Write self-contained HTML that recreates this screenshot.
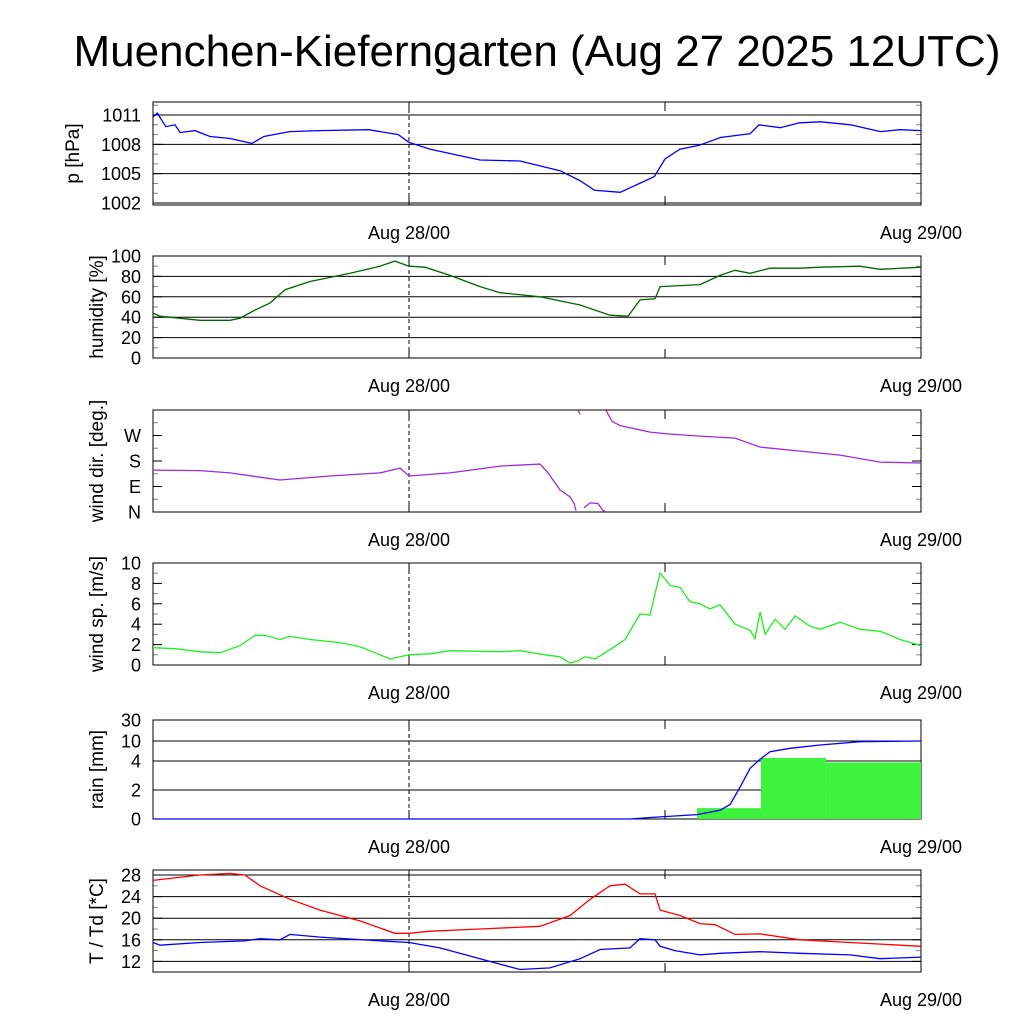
<!DOCTYPE html>
<html><head><meta charset="utf-8"><style>
body{margin:0;background:#fff;}
svg text{font-family:"Liberation Sans",sans-serif;fill:#000;}
</style></head><body>
<svg id="c" width="1024" height="1024" xmlns="http://www.w3.org/2000/svg">
<text x="537" y="66" font-size="44" text-anchor="middle">Muenchen-Kieferngarten (Aug 27 2025 12UTC)</text>
</svg>
<script>
const pHours=[0,0.2,0.6,1.03,1.27,1.97,2.67,3.61,4.64,5.2,6.4,7.8,10.1,11.5,12,13,15.33,17.2,19.08,20,20.7,21.9,22.8,23.5,24,24.7,25.6,26.6,28,28.4,29.4,30.3,31.3,32.7,34.1,35,36];
const pValues=[1010.8,1011.2,1009.8,1010.0,1009.2,1009.4,1008.8,1008.6,1008.1,1008.8,1009.3,1009.4,1009.5,1009.0,1008.2,1007.5,1006.4,1006.3,1005.3,1004.3,1003.3,1003.1,1004.0,1004.7,1006.5,1007.5,1007.9,1008.7,1009.1,1010.0,1009.7,1010.2,1010.3,1010.0,1009.3,1009.5,1009.4];
const hHours=[0,0.33,2.2,3.61,4.08,4.78,5.49,6.19,7.36,9.24,10.64,11.34,12,12.75,13.92,15.33,16.27,18.14,20.02,21.42,22.27,22.83,23.53,23.77,24.71,25.64,26.58,27.28,27.99,28.92,30.33,31.27,33.14,34.08,36];
const hValues=[44,41,37,37,39,47,54,67,75,83,90,95,90,89,81,70,64,60,52,42,41,57,58,70,71,72,81,86,83,88,88,89,90,87,89];
const dHours=[0,2.2,3.61,5.95,8.3,10.64,11.58,12,13.92,16.27,18.14,18.52,19.08,19.55,19.74,19.83,19.92,20.02,20.2,20.49,20.86,21.1,21.19,21.24,21.52,21.89,23.3,24.24,25.64,27.28,28.46,30.33,32.21,34.08,36];
const dValues=[148,146,138,113,127,138,155,127,138,162,169,138,78,53,30,5,358,345,15,32,30,5,2,358,320,305,282,275,268,261,229,215,201,176,173];
const sHours=[0,1.03,2.2,3.14,4.08,4.78,5.25,5.95,6.42,7.36,8.77,9.7,10.64,11.11,12,12.99,13.92,16.27,17.2,18.38,19.08,19.55,19.92,20.25,20.72,21.42,22.13,22.83,23.3,23.53,23.77,24.24,24.71,25.17,25.64,26.11,26.58,27.28,27.99,28.22,28.46,28.69,29.16,29.63,30.1,30.8,31.27,32.21,33.14,34.08,35.02,36];
const sValues=[1.7,1.6,1.3,1.2,1.9,2.9,2.9,2.5,2.8,2.5,2.2,1.8,1.0,0.6,1.0,1.1,1.4,1.3,1.4,1.0,0.8,0.2,0.4,0.8,0.6,1.5,2.5,5.0,4.9,7.0,9.0,7.8,7.6,6.2,6.0,5.5,5.9,4.0,3.4,2.6,5.2,3.0,4.5,3.5,4.8,3.8,3.5,4.2,3.5,3.3,2.5,1.9];
const rainBarStart=[25.5,28.5,31.55];
const rainBarEnd=[28.5,31.55,36];
const rainBarValues=[0.75,4.9,3.9];
const rainHours=[0,22.36,23.3,25.5,26.58,27.05,27.52,27.99,28.46,28.92,29.86,31.27,33.14,36];
const rainValues=[0,0,0.1,0.3,0.6,1.0,2.2,3.5,4.5,6.8,7.8,8.8,9.8,10.0];
const rainTicks=[0,2,4,10,30];
const tHours=[0,2.2,3.61,4.31,5.02,6.42,7.83,9.7,11.34,12,12.99,15.33,18.14,19.55,20.49,21.42,22.13,22.83,23.53,23.77,24.71,25.64,26.35,27.28,28.46,30.33,32.67,36];
const tValues=[27.0,28.0,28.3,28.0,26.0,23.5,21.5,19.5,17.2,17.2,17.6,18.0,18.5,20.5,23.5,26.0,26.3,24.5,24.5,21.5,20.5,19.0,18.8,17.0,17.1,16.0,15.5,14.8];
const tdHours=[0,0.33,2.2,4.31,5.02,5.95,6.42,7.83,10.64,12,13.45,15.33,17.2,18.61,20.02,20.96,22.36,22.83,23.53,23.77,24.47,25.64,26.58,28.46,30.33,32.67,34.08,36];
const tdValues=[15.5,15.0,15.5,15.8,16.2,16.0,17.0,16.5,15.8,15.5,14.5,12.5,10.5,10.8,12.5,14.2,14.5,16.2,16.0,14.8,14.0,13.2,13.5,13.8,13.5,13.2,12.5,12.8];

const svg=document.getElementById('c');
const NS='http://www.w3.org/2000/svg';
const X0=153,X1=921;
const xs=h=>X0+(X1-X0)*h/36;
function mk(tag,attrs,parent){const e=document.createElementNS(NS,tag);for(const k in attrs)e.setAttribute(k,attrs[k]);(parent||svg).appendChild(e);return e;}

function panel(name,top,bot,ysc,ticks,labels,minor,ylabel,grid,ylx){
  const g=mk('g',{});
  
  
  if(grid){ticks.forEach(t=>{const y=ysc(t);const l=mk('line',{x1:X0,x2:X1,y1:y,y2:y,stroke:'#000','stroke-width':1},g);});}
  minor.forEach(t=>{const y=ysc(t);mk('line',{x1:X0,x2:X0+5,y1:y,y2:y,stroke:'#888','stroke-width':1},g);mk('line',{x1:X1-5,x2:X1,y1:y,y2:y,stroke:'#888','stroke-width':1},g);});
  ticks.forEach((t,i)=>{const y=ysc(t);mk('line',{x1:X0,x2:X0+9,y1:y,y2:y,stroke:'#000'},g);mk('line',{x1:X1-9,x2:X1,y1:y,y2:y,stroke:'#000'},g);
    const tx=mk('text',{x:X0-12,y:y+6.5,'font-size':18,'text-anchor':'end'},g);tx.textContent=labels[i];
    });
  [12,24].forEach(h=>{mk('line',{x1:xs(h),x2:xs(h),y1:bot,y2:bot-9,stroke:'#000'},g);mk('line',{x1:xs(h),x2:xs(h),y1:top,y2:top+9,stroke:'#000'},g);});
  const dl=mk('line',{x1:xs(12),x2:xs(12),y1:top,y2:bot,stroke:'#000','stroke-dasharray':'4,3'},g);
  
  const fr=mk('rect',{x:X0,y:top,width:X1-X0,height:bot-top,fill:'none',stroke:'#000','stroke-width':1},g);
  
  [[12,'Aug 28/00'],[36,'Aug 29/00']].forEach(([h,s])=>{const t=mk('text',{x:xs(h),y:bot+34,'font-size':18,'text-anchor':'middle'},g);t.textContent=s;});
  const cy=(top+bot)/2;
  const yl=mk('text',{x:0,y:0,'font-size':19,'text-anchor':'middle',transform:`translate(${ylx||103},${cy}) rotate(-90)`},g);
  yl.textContent=ylabel;
  return g;
}
function line(g,hs,vs,ysc,color,name,wrap){
  let segs=[[]];
  for(let i=0;i<hs.length;i++){
    if(wrap&&i>0&&Math.abs(vs[i]-vs[i-1])>180)segs.push([]);
    segs[segs.length-1].push(xs(hs[i]).toFixed(1)+','+ysc(vs[i]).toFixed(1));
  }
  segs.forEach(s=>{const p=mk('polyline',{points:s.join(' '),fill:'none',stroke:color,'stroke-width':1.3},g);
    });
}
{const top=102,bot=205;const ys=v=>115+(1011-v)*9.78;
 const g=panel('pressure',top,bot,ys,[1011,1008,1005,1002],['1011','1008','1005','1002'],[1012,1010,1009,1007,1006,1004,1003],'p [hPa]',true,79);
 line(g,pHours,pValues,ys,'#0000ff','pressure-line');}
{const top=256,bot=358;const ys=v=>bot-v*1.02;
 const g=panel('humidity',top,bot,ys,[0,20,40,60,80,100],['0','20','40','60','80','100'],[10,30,50,70,90],'humidity [%]',true);
 line(g,hHours,hValues,ys,'#006400','humidity-line');}
{const top=410,bot=512;const ys=v=>bot-v*(bot-top)/360;
 const g=panel('wind-dir',top,bot,ys,[0,90,180,270],['N','E','S','W'],[45,135,225,315],'wind dir. [deg.]',false);
 line(g,dHours,dValues,ys,'#9a2be2','wind-direction-line',true);}
{const top=563,bot=665;const ys=v=>bot-v*10.2;
 const g=panel('wind-speed',top,bot,ys,[0,2,4,6,8,10],['0','2','4','6','8','10'],[1,3,5,7,9],'wind sp. [m/s]',false);
 line(g,sHours,sValues,ys,'#22ee22','wind-speed-line');}
{const top=720,bot=819;const frac=[0,29/99,58/99,78/99,1];
 const ys=v=>{for(let i=1;i<rainTicks.length;i++){if(v<=rainTicks[i]){const f=frac[i-1]+(frac[i]-frac[i-1])*(v-rainTicks[i-1])/(rainTicks[i]-rainTicks[i-1]);return bot-f*(bot-top);}}return top;};
 const g=panel('rain',top,bot,ys,rainTicks,rainTicks.map(String),[],'rain [mm]',true);
 rainBarValues.forEach((v,i)=>{const r=mk('rect',{x:xs(rainBarStart[i]),y:ys(v),width:xs(rainBarEnd[i])-xs(rainBarStart[i]),height:bot-ys(v),fill:'#3ef33e'},g);
  });
 line(g,rainHours,rainValues,ys,'#0000ff','cumulative-rain-line');}
{const top=870,bot=972;const ys=v=>875+(28-v)*5.4;
 const g=panel('temperature',top,bot,ys,[12,16,20,24,28],['12','16','20','24','28'],[14,18,22,26],'T / Td [*C]',true);
 line(g,tHours,tValues,ys,'#ff0000','temperature-line');
 line(g,tdHours,tdValues,ys,'#0000ff','dewpoint-line');}
</script>
</body></html>
